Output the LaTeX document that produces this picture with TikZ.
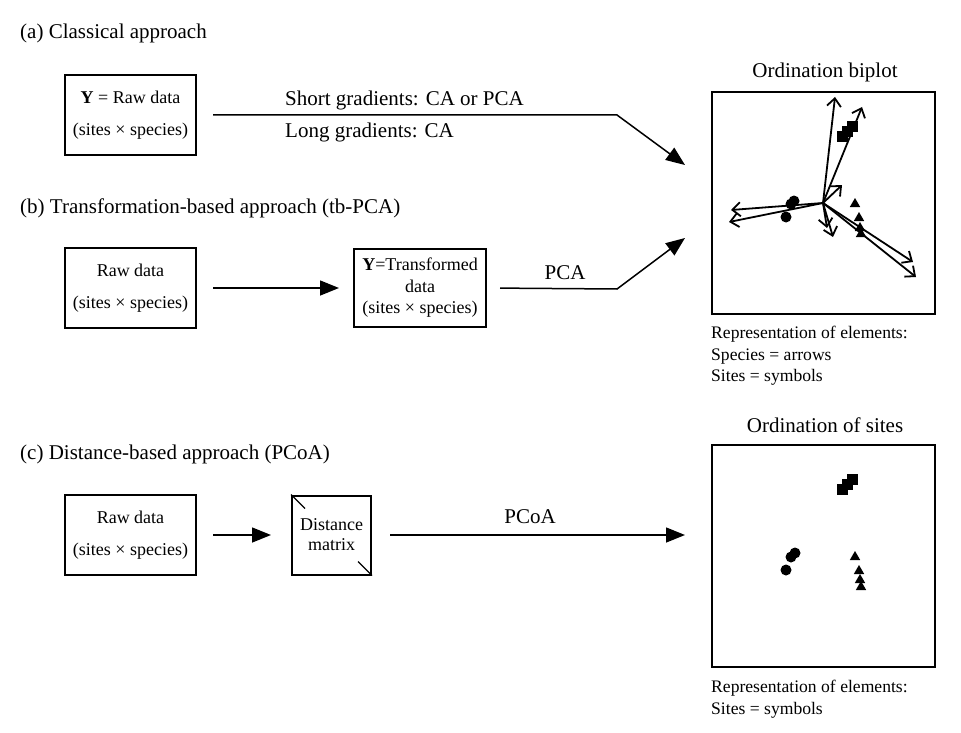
\documentclass[tikz,border=0pt]{standalone}
\usepackage{fontspec}
\setmainfont{Liberation Serif}
\usepackage{tikz}
\usetikzlibrary{arrows.meta, positioning, calc, shapes.geometric}

\begin{document}
\begin{tikzpicture}[x=1pt, y=-1pt,
  box/.style={draw, line width=2pt, minimum width=131pt, minimum height=80pt, inner sep=0pt, align=center, font=\fontsize{18}{22}\selectfont},
  plot/.style={draw, line width=2pt, minimum width=223pt, minimum height=222pt},
  head/.style={font=\fontsize{21}{25}\selectfont, inner sep=0pt, yshift=-2pt},
  small/.style={font=\fontsize{17.6}{21.5}\selectfont, inner sep=0pt},
  flow/.style={line width=1.5pt, -{Triangle[length=19pt, width=15pt]}},
  spp/.style={line width=1.8pt, -{Straight Barb[length=8pt, width=14pt]}},
  sq/.style={fill, minimum size=11pt, inner sep=0pt},
  dot/.style={circle, fill, minimum size=11pt, inner sep=0pt},
  tri/.style={regular polygon, regular polygon sides=3, fill, minimum size=12pt, inner sep=0pt}]
  \useasboundingbox (0,0) rectangle (961,733);
  % (a) classical
  \node[head, anchor=west] (capA) at (20,31) {(a) Classical approach};
  \node[box] (rawA) at (130.5,115) {\textbf{Y} = Raw data\\[10pt](sites × species)};
  \node[plot] (biplot) at (823,203) {};
  \node[head] (tBi) at (825,70) {Ordination biplot};
  \node[small, anchor=north west, align=left] (legBi) at (711,326)
    {Representation of elements:\\Species = arrows\\Sites = symbols};
  \coordinate (bendA) at (617,115);
  \coordinate (tipA) at (685,165);
  \draw[flow, shorten <=16pt] (rawA.east) -- (bendA) -- (tipA);
  \node[head, anchor=west] (shortG) at (285,98) {Short gradients: CA or PCA};
  \node[head, anchor=west] (longG) at (285,130) {Long gradients: CA};
  % (b) transformation-based
  \node[head, anchor=west] (capB) at (20,206) {(b) Transformation-based approach (tb-PCA)};
  \node[box] (rawB) at (130.5,288) {Raw data\\[10pt](sites × species)};
  \node[box, minimum width=132pt, minimum height=78pt, font=\fontsize{18}{21.5}\selectfont] (trans) at (420,288)
    {\textbf{Y}=Transformed\\data\\(sites × species)};
  \draw[flow, shorten <=16pt, shorten >=14pt] (rawB.east) -- (trans.west);
  \coordinate (bendB) at (617,289);
  \coordinate (tipB) at (685,238);
  \draw[flow, shorten <=13pt] (trans.east) -- (bendB) -- (tipB);
  \node[head] (pca) at (565,271) {PCA};
  % (c) distance-based
  \node[head, anchor=west] (capC) at (20,452) {(c) Distance-based approach (PCoA)};
  \node[box] (rawC) at (130.5,535) {Raw data\\[10pt](sites × species)};
  \node[box, minimum width=79pt, minimum height=79pt, font=\fontsize{18}{20}\selectfont] (dist) at (331.5,535)
    {Distance\\matrix};
  \draw[line width=1.3pt] (dist.north west) -- ++(14,14);
  \draw[line width=1.3pt] (dist.south east) -- ++(-14,-14);
  \node[plot] (sites) at (823.5,555.5) {};
  \node[head] (tSi) at (825,423) {Ordination of sites};
  \node[small, anchor=north west, align=left] (legSi) at (711,680)
    {Representation of elements:\\Sites = symbols};
  \draw[flow, shorten <=16pt, shorten >=20pt] (rawC.east) -- (dist.west);
  \draw[flow, shorten <=18pt, shorten >=26pt] (dist.east) -- (dist.east -| sites.west);
  \node[head] (pcoa) at (530,515) {PCoA};
  % biplot: sites
  \foreach \x/\y [count=\i] in {842/137, 847/132, 852/127} \node[sq] (sqA\i) at (\x,\y) {};
  \foreach \x/\y [count=\i] in {791/204, 794/201, 786/217} \node[dot] (ciA\i) at (\x,\y) {};
  \foreach \x/\y [count=\i] in {855/204, 859/218, 860/228, 861/234} \node[tri] (trA\i) at (\x,\y) {};
  % biplot: species
  \coordinate (orig) at (823,203);
  \foreach \x/\y [count=\i] in {835/97, 862/107, 842/185, 731/210, 729/222, 827/228, 833/237, 913/262, 916/277} {
    \coordinate (sp\i) at (\x,\y);
    \draw[spp] (orig) -- (sp\i);}
  % ordination of sites
  \foreach \x/\y [count=\i] in {842/489, 847/484, 852/479} \node[sq] (sqB\i) at (\x,\y) {};
  \foreach \x/\y [count=\i] in {791/557, 795/553, 786/570} \node[dot] (ciB\i) at (\x,\y) {};
  \foreach \x/\y [count=\i] in {855/557, 859/571, 860/580, 861/587} \node[tri] (trB\i) at (\x,\y) {};
\end{tikzpicture}
\end{document}
